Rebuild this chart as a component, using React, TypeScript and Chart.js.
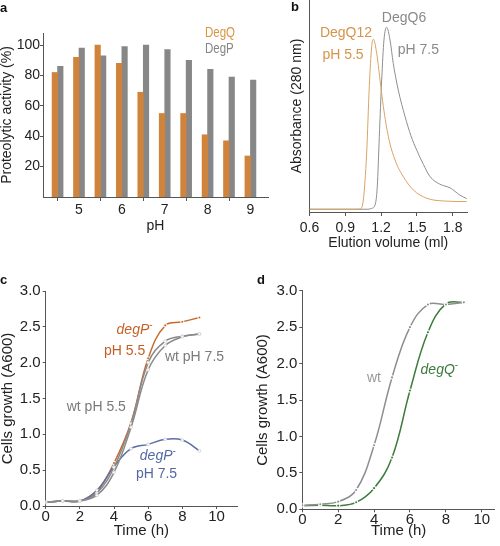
import React, { useEffect, useRef } from 'react';
import { Chart, registerables } from 'chart.js';
Chart.register(...registerables);

const FONT = '"Liberation Sans", Arial, Helvetica, sans-serif';
const AXIS = '#555555';
const TEXT = '#222222';

// ---------- Panel a: proteolytic activity vs pH ----------
const phValues = [4.5, 5, 5.5, 6, 6.5, 7, 7.5, 8, 8.5, 9];
const degQActivity = [82, 92, 100, 88, 69, 55, 55, 41, 37, 27];
const degPActivity = [86, 98, 93, 99, 100, 97, 90, 84, 79, 77];
const phTicks = [4.5, 5, 5.5, 6, 6.5, 7, 7.5, 8, 8.5, 9];
const activityTicks = [20, 40, 60, 80, 100];

// ---------- Panel b: elution profiles ----------
const degQ12Volume = [0.6, 0.98, 1.023, 1.051, 1.079, 1.101, 1.121, 1.135, 1.163, 1.191, 1.219, 1.261, 1.317, 1.386, 1.47, 1.582, 1.721, 1.918];
const degQ12Abs = [1.3, 1.3, 1.4, 5.7, 27.7, 59.1, 78.0, 81.5, 74.9, 62.3, 49.7, 35.5, 24.5, 16.7, 10.4, 6.5, 5.2, 4.9];
const degQ6Volume = [0.6, 1.09, 1.121, 1.149, 1.168, 1.185, 1.205, 1.224, 1.247, 1.275, 1.302, 1.344, 1.401, 1.45, 1.5, 1.554, 1.61, 1.69, 1.78, 1.86, 1.918];
const degQ6Abs = [1.3, 1.3, 1.7, 3.3, 11.9, 35.5, 62.3, 81.1, 87.1, 81.1, 70.1, 57.5, 45.0, 36.0, 29.0, 22.5, 16.7, 13.2, 11.3, 8.0, 6.3];
const elutionTicks = [0.6, 0.9, 1.2, 1.5, 1.8];

// ---------- Panel c: growth of degP- ----------
const hoursC = [0, 1, 2, 3, 4, 5, 6, 7, 8, 9];
const degPpH55 = [0.05, 0.07, 0.07, 0.2, 0.6, 1.17, 2.06, 2.52, 2.57, 2.63];
const wtpH55 = [0.05, 0.07, 0.07, 0.18, 0.54, 1.15, 2.0, 2.3, 2.37, 2.4];
const wtpH75 = [0.05, 0.07, 0.07, 0.15, 0.47, 1.1, 1.9, 2.24, 2.36, 2.4];
const degPpH75 = [0.05, 0.07, 0.07, 0.22, 0.55, 0.8, 0.86, 0.93, 0.92, 0.77];

// ---------- Panel d: growth of degQ- ----------
const hoursD = [0, 1, 2, 3, 4, 5, 6, 7, 8, 9];
const wtGrowth = [0.055, 0.07, 0.105, 0.265, 0.88, 1.81, 2.5, 2.81, 2.81, 2.84];
const degQGrowth = [0.05, 0.055, 0.05, 0.096, 0.29, 0.71, 1.63, 2.43, 2.82, 2.84];

const timeTicks = [0, 2, 4, 6, 8, 10];
const growthTicks = [0, 0.5, 1, 1.5, 2, 2.5, 3];

type Part = { text: string; italic?: boolean; sup?: boolean };
type Label = { x: number; y: number; parts: Part[]; color: string; size: number; align?: 'left' | 'center'; squeeze?: number };

function makeTextPlugin(items: Label[]) {
  return {
    id: 'textLabels',
    afterDraw(chart: any) {
      const ctx = chart.ctx;
      const xs = chart.scales.x;
      const ys = chart.scales.y;
      for (const it of items) {
        ctx.save();
        ctx.textBaseline = 'middle';
        ctx.textAlign = 'left';
        const px = xs.getPixelForValue(it.x);
        const py = ys.getPixelForValue(it.y);
        const sq = it.squeeze || 1;
        const fontFor = (p: Part) => `${p.italic ? 'italic ' : ''}${p.sup ? Math.round(it.size * 0.7) : it.size}px ${FONT}`;
        let total = 0;
        for (const p of it.parts) {
          ctx.font = fontFor(p);
          total += ctx.measureText(p.text).width;
        }
        const start = it.align === 'center' ? px - (total * sq) / 2 : px;
        ctx.translate(start, py);
        ctx.scale(sq, 1);
        let cx = 0;
        ctx.fillStyle = it.color;
        for (const p of it.parts) {
          ctx.font = fontFor(p);
          ctx.fillText(p.text, cx, p.sup ? -it.size * 0.35 : 0);
          cx += ctx.measureText(p.text).width;
        }
        ctx.restore();
      }
    },
  };
}

const fixedTicks = (vals: number[]) => (s: any) => {
  s.ticks = vals.map((v) => ({ value: v }));
};

function axisBase(size: number) {
  return {
    border: { display: true, color: AXIS, width: 1 },
    ticks: { font: { family: FONT, size }, color: TEXT, autoSkip: false, maxRotation: 0 },
  };
}

function configA() {
  return {
    type: 'bar',
    data: {
      datasets: [
        { label: 'DegQ', data: phValues.map((x, i) => ({ x, y: degQActivity[i] })), backgroundColor: '#d0833a', barThickness: 5.5 },
        { label: 'DegP', data: phValues.map((x, i) => ({ x, y: degPActivity[i] })), backgroundColor: '#878787', barThickness: 5.5 },
      ],
    },
    options: {
      animation: false,
      responsive: false,
      events: [],
      layout: { padding: { left: 0, top: 33, right: 232, bottom: 313 } },
      plugins: { legend: { display: false }, tooltip: { enabled: false } },
      scales: {
        x: {
          ...axisBase(14),
          type: 'linear',
          min: 4.16,
          max: 9.41,
          offset: false,
          afterBuildTicks: fixedTicks(phTicks),
          afterFit: (s: any) => { s.height = 36; },
          grid: {
            display: true, drawOnChartArea: false, drawTicks: true, tickLength: 4, offset: false,
            tickColor: (c: any) => (c.tick && c.tick.value % 1 === 0 ? 'rgba(0,0,0,0)' : AXIS),
          },
          ticks: { ...axisBase(14).ticks, padding: 1, callback: (v: any) => (Number(v) % 1 === 0 ? String(v) : '') },
          title: { display: true, text: 'pH', color: TEXT, font: { family: FONT, size: 14, lineHeight: 1 }, padding: 0 },
        },
        y: {
          ...axisBase(14),
          min: 0,
          max: 108,
          afterBuildTicks: fixedTicks(activityTicks),
          afterFit: (s: any) => { s.width = 43; },
          grid: { display: true, drawOnChartArea: false, drawTicks: true, tickLength: 3, tickColor: AXIS },
          ticks: { ...axisBase(14).ticks, padding: 0 },
          title: { display: true, text: 'Proteolytic activity (%)', color: TEXT, font: { family: FONT, size: 14, lineHeight: 1 }, padding: 0 },
        },
      },
    },
    plugins: [
      makeTextPlugin([
        { x: 7.94, y: 108.2, parts: [{ text: 'DegQ' }], color: '#dc9440', size: 14, squeeze: 0.82 },
        { x: 7.94, y: 97.3, parts: [{ text: 'DegP' }], color: '#858585', size: 14, squeeze: 0.82 },
      ]),
    ],
  };
}

function configB() {
  return {
    type: 'line',
    data: {
      datasets: [
        { label: 'DegQ12 pH 5.5', data: degQ12Volume.map((x, i) => ({ x, y: degQ12Abs[i] })), borderColor: '#d9a463', borderWidth: 1, pointRadius: 0, cubicInterpolationMode: 'monotone' },
        { label: 'DegQ6 pH 7.5', data: degQ6Volume.map((x, i) => ({ x, y: degQ6Abs[i] })), borderColor: '#8f8f8f', borderWidth: 1, pointRadius: 0, cubicInterpolationMode: 'monotone' },
      ],
    },
    options: {
      animation: false,
      responsive: false,
      events: [],
      layout: { padding: { left: 290, top: 0, right: 33, bottom: 296 } },
      plugins: { legend: { display: false }, tooltip: { enabled: false } },
      scales: {
        x: {
          ...axisBase(14),
          type: 'linear',
          min: 0.6,
          max: 1.92,
          afterBuildTicks: fixedTicks(elutionTicks),
          afterFit: (s: any) => { s.height = 38; },
          grid: { display: true, drawOnChartArea: false, drawTicks: true, tickLength: 4, tickColor: AXIS },
          ticks: { ...axisBase(14).ticks, padding: 4, callback: (v: any) => Number(v).toFixed(1) },
          title: { display: true, text: 'Elution volume (ml)', color: TEXT, font: { family: FONT, size: 14, lineHeight: 1 }, padding: 0 },
        },
        y: {
          ...axisBase(14),
          type: 'linear',
          min: 0,
          max: 100,
          afterFit: (s: any) => { s.width = 19.5; },
          grid: { display: false },
          ticks: { display: false },
          title: { display: true, text: 'Absorbance (280 nm)', color: TEXT, font: { family: FONT, size: 14, lineHeight: 1 }, padding: 0 },
        },
      },
    },
    plugins: [
      makeTextPlugin([
        { x: 0.906, y: 84.4, parts: [{ text: 'DegQ12' }], color: '#d49548', size: 14, align: 'center' },
        { x: 0.881, y: 74.1, parts: [{ text: 'pH 5.5' }], color: '#d49548', size: 14, align: 'center' },
        { x: 1.392, y: 91.5, parts: [{ text: 'DegQ6' }], color: '#8a8a8a', size: 14, align: 'center' },
        { x: 1.339, y: 76.4, parts: [{ text: 'pH 7.5' }], color: '#8a8a8a', size: 14 },
      ]),
    ],
  };
}

function growthLine(label: string, xs: number[], ys: number[], color: string, hollow: boolean) {
  return {
    label,
    data: xs.map((x, i) => ({ x, y: ys[i] })),
    borderColor: color,
    borderWidth: 1.5,
    tension: 0.4,
    pointRadius: hollow ? 1.4 : 1.6,
    pointBackgroundColor: hollow ? '#ffffff' : color,
    pointBorderColor: hollow ? '#d4d4d4' : '#ffffff',
    pointBorderWidth: hollow ? 1 : 1.1,
  };
}

function growthScales(yWidth: number, xHeight: number, xMax: number, xPad: number) {
  return {
    x: {
      ...axisBase(15),
      type: 'linear',
      min: 0,
      max: xMax,
      afterBuildTicks: fixedTicks(timeTicks),
      afterFit: (s: any) => { s.height = xHeight; },
      grid: { display: true, drawOnChartArea: false, drawTicks: true, tickLength: 3, tickColor: AXIS },
      ticks: { ...axisBase(15).ticks, padding: xPad },
      title: { display: true, text: 'Time (h)', color: TEXT, font: { family: FONT, size: 15, lineHeight: 1 }, padding: 0 },
    },
    y: {
      ...axisBase(15),
      type: 'linear',
      min: 0,
      max: 3,
      afterBuildTicks: fixedTicks(growthTicks),
      afterFit: (s: any) => { s.width = yWidth; },
      grid: { display: true, drawOnChartArea: false, drawTicks: true, tickLength: 3, tickColor: AXIS },
      ticks: { ...axisBase(15).ticks, padding: 2, callback: (v: any) => Number(v).toFixed(1) },
      title: { display: true, text: 'Cells growth (A600)', color: TEXT, font: { family: FONT, size: 15, lineHeight: 1 }, padding: 0 },
    },
  };
}

function configC() {
  return {
    type: 'line',
    data: {
      datasets: [
        growthLine('wt pH 7.5', hoursC, wtpH75, '#8a8a8a', true),
        growthLine('wt pH 5.5', hoursC, wtpH55, '#8a8a8a', true),
        growthLine('degP- pH 7.5', hoursC, degPpH75, '#5b6fa6', true),
        growthLine('degP- pH 5.5', hoursC, degPpH55, '#c9692e', false),
      ],
    },
    options: {
      animation: false,
      responsive: false,
      events: [],
      layout: { padding: { left: 0, top: 291, right: 263, bottom: 7.5 } },
      plugins: { legend: { display: false }, tooltip: { enabled: false } },
      scales: growthScales(45.7, 32.5, 11.2, -1.5),
    },
    plugins: [
      makeTextPlugin([
        { x: 4.15, y: 2.45, parts: [{ text: 'degP', italic: true }, { text: '-', sup: true }], color: '#c55f25', size: 14 },
        { x: 3.41, y: 2.16, parts: [{ text: 'pH 5.5' }], color: '#c55f25', size: 14 },
        { x: 6.98, y: 2.08, parts: [{ text: 'wt pH 7.5' }], color: '#7a7a7a', size: 14 },
        { x: 1.23, y: 1.38, parts: [{ text: 'wt pH 5.5' }], color: '#7a7a7a', size: 14 },
        { x: 5.51, y: 0.69, parts: [{ text: 'degP', italic: true }, { text: '-', sup: true }], color: '#5468a4', size: 14 },
        { x: 5.28, y: 0.45, parts: [{ text: 'pH 7.5' }], color: '#5468a4', size: 14 },
      ]),
    ],
  };
}

function configD() {
  return {
    type: 'line',
    data: {
      datasets: [
        growthLine('wt', hoursD, wtGrowth, '#8e8e8e', false),
        growthLine('degQ-', hoursD, degQGrowth, '#3d7c3d', false),
      ],
    },
    options: {
      animation: false,
      responsive: false,
      events: [],
      layout: { padding: { left: 255.5, top: 290.7, right: 1.7, bottom: 8 } },
      plugins: { legend: { display: false }, tooltip: { enabled: false } },
      scales: growthScales(46.8, 28.7, 10.73, -1.5),
    },
    plugins: [
      makeTextPlugin([
        { x: 3.6, y: 1.8, parts: [{ text: 'wt' }], color: '#999999', size: 14 },
        { x: 6.59, y: 1.91, parts: [{ text: 'degQ', italic: true }, { text: '-', sup: true }], color: '#3a7a3a', size: 14 },
      ]),
    ],
  };
}

function Panel({ make }: { make: () => any }) {
  const ref = useRef<HTMLCanvasElement | null>(null);
  useEffect(() => {
    const chart = new Chart(ref.current as HTMLCanvasElement, make());
    return () => chart.destroy();
  }, [make]);
  return (
    <canvas
      ref={ref}
      width={500}
      height={546}
      style={{ position: 'absolute', left: 0, top: 0, width: 500, height: 546 }}
    />
  );
}

const letterStyle = (left: number, top: number): React.CSSProperties => ({
  position: 'absolute',
  left,
  top,
  fontFamily: FONT,
  fontWeight: 'bold',
  fontSize: 13,
  lineHeight: '13px',
  color: '#111',
});

export default function App() {
  return (
    <div style={{ position: 'absolute', left: 0, top: 0, width: 500, height: 546, background: '#fff', overflow: 'hidden' }}>
      <Panel make={configA} />
      <Panel make={configB} />
      <Panel make={configC} />
      <Panel make={configD} />
      <span style={letterStyle(0, 1)}>a</span>
      <span style={letterStyle(291, 0)}>b</span>
      <span style={letterStyle(0, 273)}>c</span>
      <span style={letterStyle(257, 273)}>d</span>
    </div>
  );
}
